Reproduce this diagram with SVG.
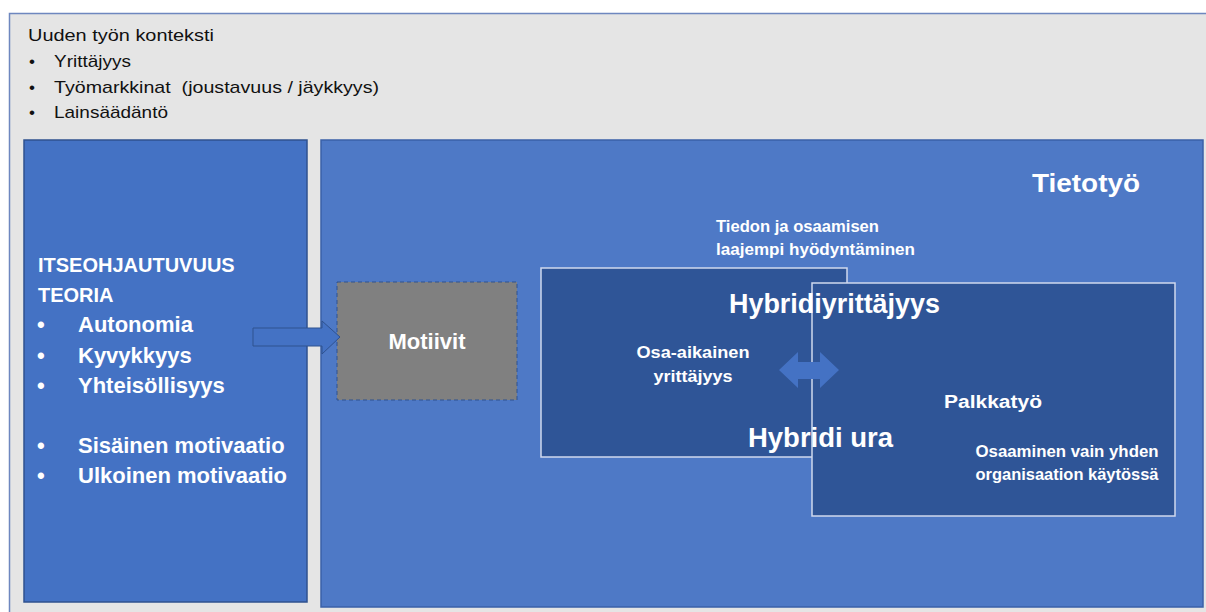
<svg xmlns="http://www.w3.org/2000/svg" width="1206" height="612" viewBox="0 0 1206 612">
  <style>
    .t { font-family: "Liberation Sans", Arial, sans-serif; }
    .dark { fill: #111111; }
    .w { fill: #FFFFFF; }
    .b { font-weight: bold; }
  </style>
  <rect x="0" y="0" width="1206" height="612" fill="#FFFFFF"/>

  <g id="context">
    <rect x="9.5" y="13.5" width="1200" height="610" fill="#E5E5E5" stroke="#6E87BF" stroke-width="1.5"/>
    <text class="t dark" x="28" y="41" font-size="17" textLength="186" lengthAdjust="spacingAndGlyphs">Uuden työn konteksti</text>
    <text class="t dark" x="29" y="67" font-size="17">•</text>
    <text class="t dark" x="54" y="67" font-size="17" textLength="77" lengthAdjust="spacingAndGlyphs">Yrittäjyys</text>
    <text class="t dark" x="29" y="93" font-size="17">•</text>
    <text class="t dark" x="54" y="93" font-size="17" textLength="325" lengthAdjust="spacingAndGlyphs" xml:space="preserve">Työmarkkinat  (joustavuus / jäykkyys)</text>
    <text class="t dark" x="29" y="118" font-size="17">•</text>
    <text class="t dark" x="54" y="118" font-size="17" textLength="114" lengthAdjust="spacingAndGlyphs">Lainsäädäntö</text>
  </g>

  <g id="theory">
    <rect x="24" y="140" width="283" height="462" fill="#4472C4" stroke="#2F528F" stroke-width="1.5"/>
    <text class="t w b" x="38" y="272" font-size="20">ITSEOHJAUTUVUUS</text>
    <text class="t w b" x="38" y="302" font-size="20">TEORIA</text>
    <g font-size="22">
      <text class="t w b" x="37" y="332">•</text>
      <text class="t w b" x="78" y="332">Autonomia</text>
      <text class="t w b" x="37" y="363">•</text>
      <text class="t w b" x="78" y="363">Kyvykkyys</text>
      <text class="t w b" x="37" y="393">•</text>
      <text class="t w b" x="78" y="393">Yhteisöllisyys</text>
      <text class="t w b" x="37" y="453">•</text>
      <text class="t w b" x="78" y="453">Sisäinen motivaatio</text>
      <text class="t w b" x="37" y="483">•</text>
      <text class="t w b" x="78" y="483">Ulkoinen motivaatio</text>
    </g>
  </g>

  <g id="knowledge-work">
    <rect x="321" y="140" width="882" height="467" fill="#4E79C6" stroke="#3A60A8" stroke-width="1.5"/>
    <text class="t w b" x="1032" y="192" font-size="26" textLength="108" lengthAdjust="spacingAndGlyphs">Tietotyö</text>
    <text class="t w" x="716" y="232" font-size="16.5" font-weight="600" textLength="163" lengthAdjust="spacingAndGlyphs">Tiedon ja osaamisen</text>
    <text class="t w" x="716" y="255" font-size="16.5" font-weight="600" textLength="199" lengthAdjust="spacingAndGlyphs">laajempi hyödyntäminen</text>
  </g>

  <g id="motives">
    <rect x="337" y="282" width="180" height="118" fill="#808080" stroke="#2F528F" stroke-width="1" stroke-dasharray="4 3"/>
    <text class="t w b" x="427" y="349" font-size="22" text-anchor="middle">Motiivit</text>
  </g>

  <g id="hybrid-entrepreneurship">
    <rect x="541" y="268" width="306" height="189" fill="#2F5597" stroke="#D0D9EE" stroke-width="1.5"/>
    <text class="t w b" x="693" y="358" font-size="17" text-anchor="middle" textLength="113" lengthAdjust="spacingAndGlyphs">Osa-aikainen</text>
    <text class="t w b" x="693" y="382" font-size="17" text-anchor="middle" textLength="79" lengthAdjust="spacingAndGlyphs">yrittäjyys</text>
  </g>

  <g id="salaried-work">
    <rect x="812" y="283" width="363" height="233" fill="#2F5597" stroke="#D0D9EE" stroke-width="1.5"/>
    <text class="t w b" x="993" y="408" font-size="18" text-anchor="middle" textLength="98" lengthAdjust="spacingAndGlyphs">Palkkatyö</text>
    <text class="t w" x="1067" y="457" font-size="16" font-weight="600" text-anchor="middle" textLength="183" lengthAdjust="spacingAndGlyphs">Osaaminen vain yhden</text>
    <text class="t w" x="1067" y="480" font-size="16" font-weight="600" text-anchor="middle" textLength="183" lengthAdjust="spacingAndGlyphs">organisaation käytössä</text>
  </g>

  <g id="connectors">
    <polygon points="253,328 322,328 322,321 340,337 322,354 322,346 253,346" fill="#4472C4" stroke="#2F528F" stroke-width="1"/>
    <polygon points="779,370 798,352 798,362 820,362 820,352 839,370 820,388 820,379 798,379 798,388" fill="#4472C4"/>
  </g>

  <g id="hybrid-labels">
    <text class="t w b" x="729" y="313" font-size="27" textLength="211" lengthAdjust="spacingAndGlyphs">Hybridiyrittäjyys</text>
    <text class="t w b" x="748" y="447" font-size="27" textLength="145" lengthAdjust="spacingAndGlyphs">Hybridi ura</text>
  </g>
</svg>
